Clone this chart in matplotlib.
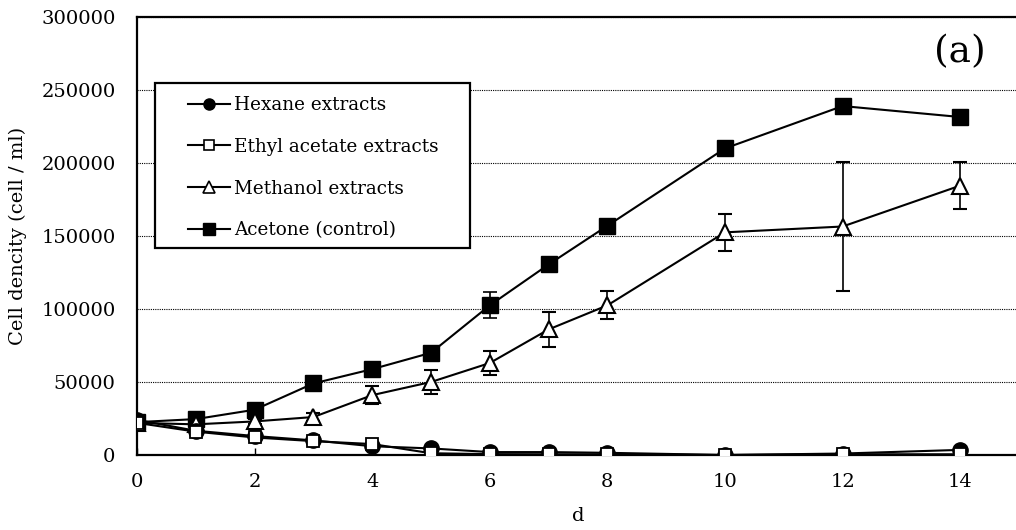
import matplotlib
matplotlib.use("Agg")
import matplotlib.pyplot as plt
from matplotlib.lines import Line2D
from matplotlib.patches import Rectangle

days = [0, 1, 2, 3, 4, 5, 6, 7, 8, 10, 12, 14]
hexane = [24000, 16600, 13000, 10000, 6000, 4500, 2000, 2000, 1500, 0, 1000, 3500]
ethyl = [22000, 16000, 12000, 9500, 7500, 1200, 600, 500, 500, 0, 500, 500]
methanol = [22000, 21000, 23000, 26000, 41000, 50000, 63000, 86000, 102500, 152500, 156500, 184500]
methanol_err = [1000, 1500, 2000, 3000, 6000, 8500, 8000, 12000, 9500, 12500, 44000, 16000]
acetone = [22500, 24600, 31000, 49000, 58800, 70000, 102500, 130500, 157000, 210000, 239000, 231500]
acetone_err = [1000, 1000, 1500, 2000, 2500, 5000, 9000, 2500, 2000, 2000, 2000, 2000]

labels = ["Hexane extracts", "Ethyl acetate extracts", "Methanol extracts", "Acetone (control)"]
yticks = [0, 50000, 100000, 150000, 200000, 250000, 300000]
xticks = [0, 2, 4, 6, 8, 10, 12, 14]

plt.rcParams['font.family'] = ['DejaVu Serif']

W, H = 1016, 530
fig = plt.figure(figsize=(W / 100, H / 100), dpi=100)
ax_l, ax_r, ax_t, ax_b = 137, 1019, 17, 455
ax = fig.add_axes([ax_l / W, 1 - ax_b / H, (ax_r - ax_l) / W, (ax_b - ax_t) / H])
aw, ah = ax_r - ax_l, ax_b - ax_t

ax.errorbar(days, acetone, yerr=acetone_err, color='black', lw=1.5, marker='s', ms=11,
            mfc='black', mec='black', capsize=5, elinewidth=1.2, capthick=1.2, zorder=3)
ax.errorbar(days, methanol, yerr=methanol_err, color='black', lw=1.5, marker='^', ms=12,
            mfc='white', mec='black', mew=1.5, capsize=5, elinewidth=1.2, capthick=1.2, zorder=4)
ax.plot(days, hexane, color='black', lw=1.5, marker='o', ms=11, mfc='black', mec='black', zorder=5)
ax.plot(days, ethyl, color='black', lw=1.5, marker='s', ms=8.5, mfc='white', mec='black', mew=1.3, zorder=6)

ax.set_xlim(0, 15)
ax.set_ylim(0, 300000)
ax.set_xticks(xticks)
ax.set_yticks(yticks)
ax.set_yticklabels([str(v) for v in yticks])
ax.tick_params(axis='x', direction='in', length=5, width=1, labelsize=14, pad=13)
ax.tick_params(axis='y', length=0, labelsize=14, pad=15.5)
ax.yaxis.grid(True, linestyle=(0, (1, 1)), color='black', lw=0.8)
ax.set_axisbelow(True)
for s in ['left', 'bottom', 'top']:
    ax.spines[s].set_linewidth(1.6)
ax.spines['right'].set_visible(False)

ax.set_xlabel("d", fontsize=14)
ax.xaxis.set_label_coords(0.5, -(507 - ax_b) / ah)
ax.set_ylabel("Cell dencity (cell / ml)", fontsize=14)
ax.yaxis.label.set_verticalalignment('center')
ax.yaxis.label.set_horizontalalignment('center')
ax.yaxis.set_label_coords(-(ax_l - 18) / aw, 0.5)

ax.text((960 - ax_l) / aw, 1 - (52 - ax_t) / ah, "(a)", transform=ax.transAxes,
        fontsize=27, ha='center', va='center')

# legend box
ax.add_patch(Rectangle(((155 - ax_l) / aw, 1 - (248 - ax_t) / ah), (470 - 155) / aw, (248 - 83) / ah,
                       transform=ax.transAxes, fill=True, facecolor='white', edgecolor='black',
                       lw=1.6, zorder=7))
handles = [
    Line2D([], [], color='black', lw=1.5, marker='o', ms=8, mfc='black', mec='black'),
    Line2D([], [], color='black', lw=1.5, marker='s', ms=7, mfc='white', mec='black', mew=1.2),
    Line2D([], [], color='black', lw=1.5, marker='^', ms=8, mfc='white', mec='black', mew=1.2),
    Line2D([], [], color='black', lw=1.5, marker='s', ms=8, mfc='black', mec='black'),
]
leg = ax.legend(handles, labels, loc='upper left',
                bbox_to_anchor=((188 - ax_l) / aw, 1 - (96 - ax_t) / ah),
                frameon=False, fontsize=13.2, handlelength=2.3, labelspacing=1.3,
                borderpad=0, borderaxespad=0, handletextpad=0.2)
leg.set_zorder(8)

fig.savefig("out.png", dpi=100)
